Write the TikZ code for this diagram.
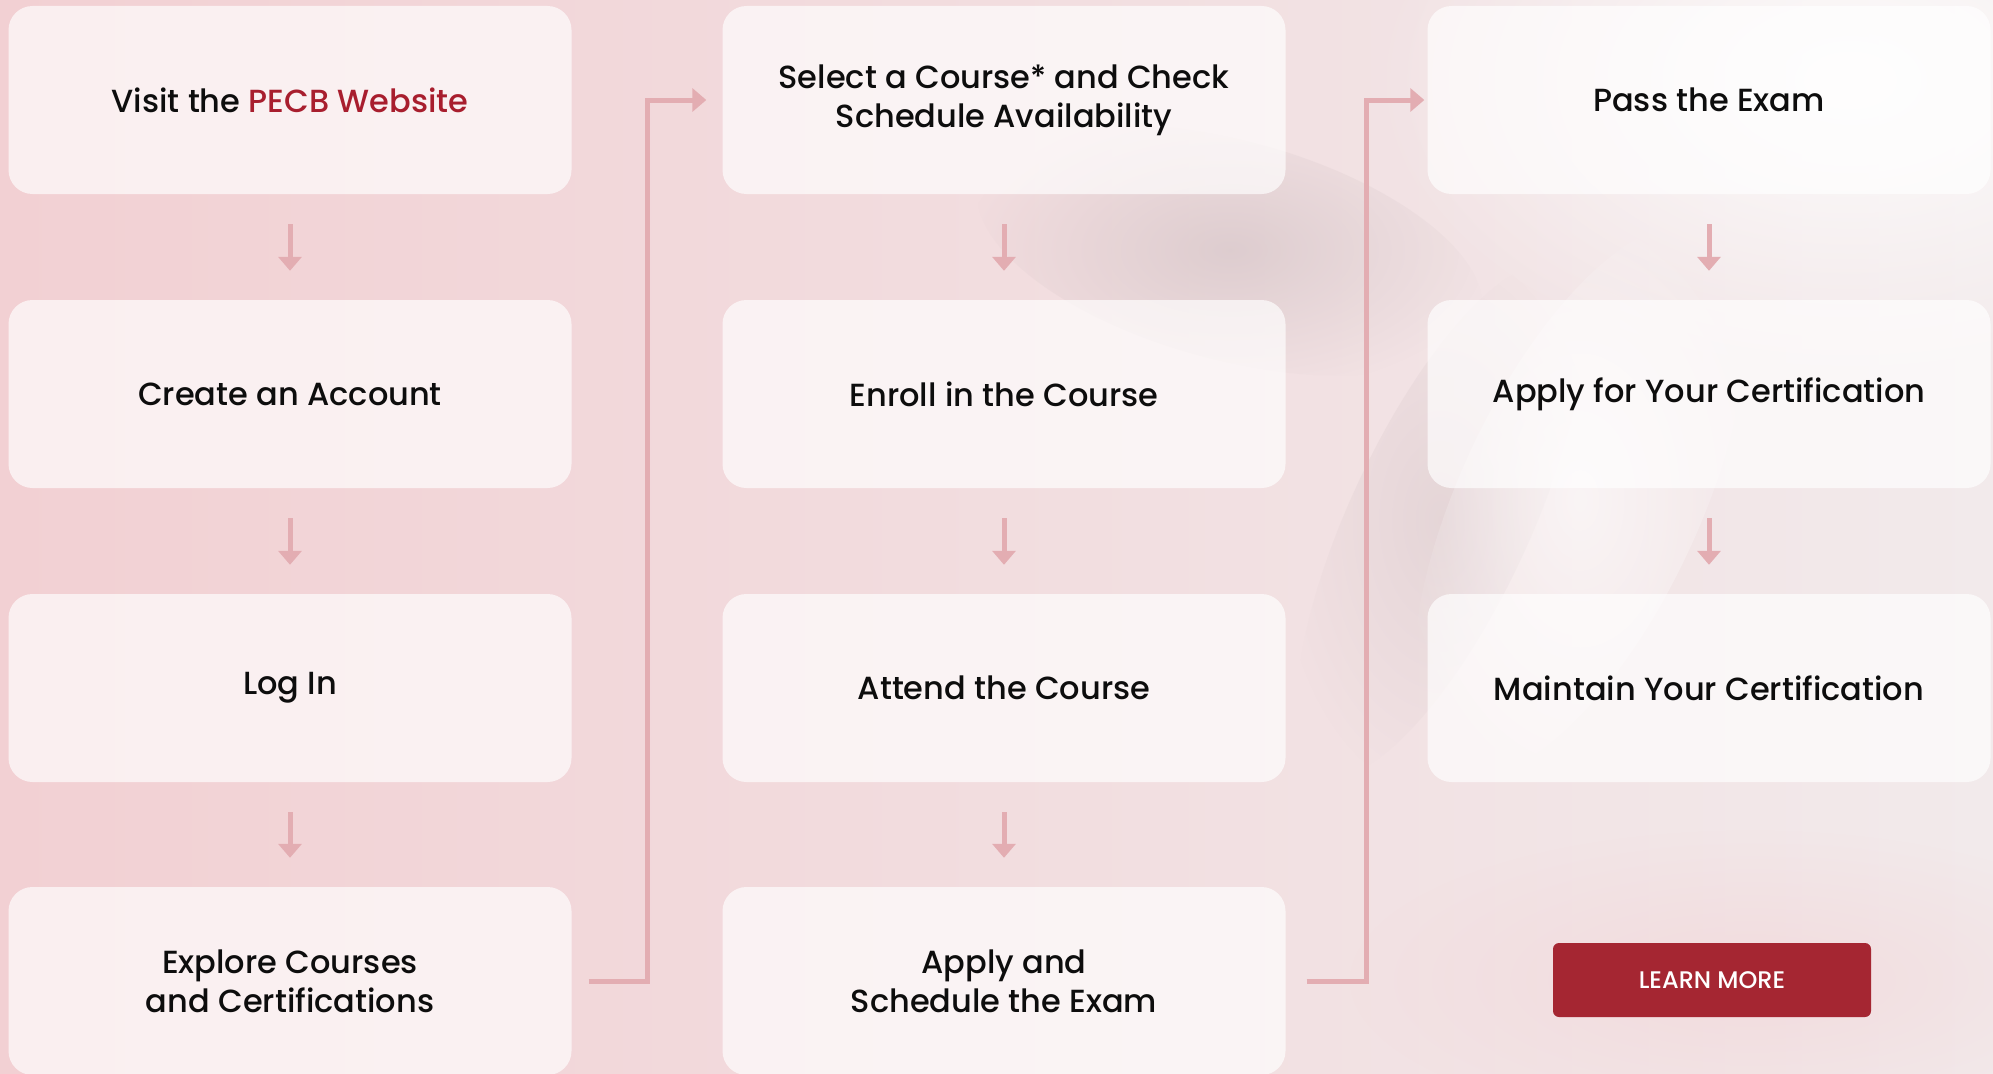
\documentclass[tikz,border=0pt]{standalone}
\usepackage{fontspec}
\setmainfont{Poppins}[UprightFont={* Medium}]
\usepackage{xcolor}
\usetikzlibrary{arrows.meta,shapes,fadings}

\definecolor{pecbred}{HTML}{A52632}
\definecolor{linkred}{HTML}{A81E2E}
\definecolor{arrowpink}{HTML}{E3ADB2}
\definecolor{bgpink}{HTML}{F2D0D3}
\definecolor{bgmid}{HTML}{F3DBDD}
\definecolor{bglight}{HTML}{F2EAEB}
\definecolor{bggrey}{HTML}{CDBDC0}

\tikzfading[name=softblob, inner color=transparent!0, outer color=transparent!100]

\tikzset{
  stepbox/.style={fill=white, fill opacity=0.67, text opacity=1, rounded corners=24pt,
    minimum width=563pt, minimum height=188pt, align=center,
    font=\fontsize{32}{39}\selectfont, text=black!95},
  flow/.style={draw=arrowpink, line width=5pt, -{Triangle[width=23pt,length=14pt]}},
  down/.style={flow, shorten <=30pt, shorten >=29pt},
  button/.style={fill=pecbred, rounded corners=6pt, minimum width=318pt,
    minimum height=74pt, text=white, font=\fontsize{24}{28}\selectfont}
}

\begin{document}
\begin{tikzpicture}[x=1pt,y=-1pt]
        \useasboundingbox (0,0) rectangle (1993,1073);
        % background
        \shade[left color=bgpink, middle color=bgmid, right color=bglight] (0,0) rectangle (1993,1073);
        \fill[white, path fading=softblob, opacity=0.85] (1850,80) ellipse (480 and 300);
        \fill[bggrey, path fading=softblob, opacity=0.55, rotate around={-15:(1230,250)}] (1230,250) ellipse (260 and 110);
        \fill[bggrey, path fading=softblob, opacity=0.35, rotate around={-25:(1440,520)}] (1440,520) ellipse (90 and 280);
        \fill[white, path fading=softblob, opacity=0.6, rotate around={-25:(1580,500)}] (1580,500) ellipse (120 and 300);
        \fill[bgpink, path fading=softblob, opacity=0.5] (1750,980) ellipse (400 and 150);

        \node[stepbox] (A1) at (290,100) {Visit the \textcolor{linkred}{PECB Website}};
        \node[stepbox] (A2) at (290,394) {Create an Account};
        \node[stepbox] (A3) at (290,688) {Log In};
        \node[stepbox] (A4) at (290,981) {Explore Courses\\and Certifications};

        \node[stepbox] (B1) at (1004,100) {Select a Course* and Check\\Schedule Availability};
        \node[stepbox] (B2) at (1004,394) {Enroll in the Course};
        \node[stepbox] (B3) at (1004,688) {Attend the Course};
        \node[stepbox] (B4) at (1004,981) {Apply and\\Schedule the Exam};

        \node[stepbox] (C1) at (1709,100) {Pass the Exam};
        \node[stepbox] (C2) at (1709,394) {Apply for Your Certification};
        \node[stepbox] (C3) at (1709,688) {Maintain Your Certification};

        \node[button] (learn) at (1712,980) {LEARN MORE};

        \draw[down] (A1) -- (A2);
        \draw[down] (A2) -- (A3);
        \draw[down] (A3) -- (A4);
        \draw[down] (B1) -- (B2);
        \draw[down] (B2) -- (B3);
        \draw[down] (B3) -- (B4);
        \draw[down] (C1) -- (C2);
        \draw[down] (C2) -- (C3);

        \draw[flow] ([xshift=17pt]A4.east) -| ([xshift=-75pt]B1.west) -- ([xshift=-16pt]B1.west);
        \draw[flow] ([xshift=21pt]B4.east) -| ([xshift=-61pt]C1.west) -- ([xshift=-3pt]C1.west);
    \end{tikzpicture}
\end{document}
